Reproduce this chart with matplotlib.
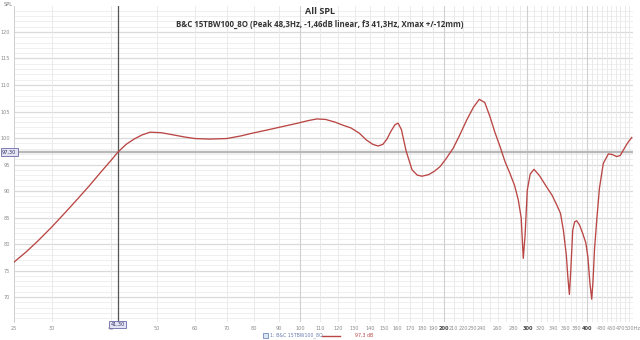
import numpy as np
import matplotlib
matplotlib.use("Agg")
import matplotlib.pyplot as plt
from matplotlib.patches import Rectangle

# frequency response (Hz, dB)
freq = [25, 26.5, 28, 30, 32, 34, 36, 38, 40, 41.3, 43, 44.7, 46.5, 48.3, 51,
        54, 57, 60, 64.5, 70, 75, 79.1, 85, 90, 98.7, 104, 108.3, 113, 118.2,
        123, 127.7, 133, 137.7, 142, 145.6, 149, 152, 155, 158, 160.4, 163,
        166.7, 171.6, 176, 180.1, 186, 191, 196.5, 202, 209.5, 216, 223.6, 231,
        237.6, 244, 250.3, 256, 262.7, 269, 275.7, 282, 287, 291, 294, 296.5,
        299.8, 304, 309.7, 318, 329, 338, 345.6, 352, 357, 362, 365, 367.5, 370,
        373.5, 377, 380.7, 386, 392, 398, 402, 406, 409.5, 412, 415, 419.5, 425,
        433, 443.7, 452, 462, 470, 477, 485, 491, 497]
spl = [76.6, 78.5, 80.5, 83.2, 85.9, 88.5, 91.0, 93.5, 95.8, 97.3, 98.8, 99.8,
       100.6, 101.1, 101.0, 100.6, 100.2, 99.9, 99.8, 99.9, 100.4, 100.9, 101.5,
       102.0, 102.8, 103.3, 103.6, 103.5, 103.0, 102.4, 101.9, 100.9, 99.6, 98.8,
       98.5, 98.8, 99.8, 101.3, 102.5, 102.8, 101.6, 97.6, 94.0, 93.0, 92.8,
       93.1, 93.7, 94.6, 96.0, 98.1, 100.5, 103.4, 105.8, 107.3, 106.7, 104.0,
       101.2, 98.4, 95.6, 93.3, 91.0, 88.3, 85.0, 77.3, 81.5, 90.2, 93.2, 94.1,
       92.9, 90.8, 89.2, 87.4, 85.8, 82.6, 78.0, 73.5, 70.5, 75.0, 82.6, 84.2,
       84.4, 83.6, 82.0, 80.2, 77.5, 72.5, 69.6, 73.0, 79.0, 84.5, 90.5, 95.2,
       97.0, 96.9, 96.5, 96.7, 97.7, 98.8, 99.5, 100.1]

xticks = [25, 30, 40, 50, 60, 70, 80, 90, 100, 110, 120, 130, 140, 150, 160,
          170, 180, 190, 200, 210, 220, 230, 240, 260, 280, 300, 320, 340, 360,
          380, 400, 430, 450, 470, 500]
xlabels = [str(v) for v in xticks[:-1]] + ["500Hz"]
bold_ticks = [200, 300, 400]
xgrid = [25, 30, 40, 50, 60, 70, 80, 90] + list(range(100, 501, 10))
xgrid_major = [100, 200, 300, 400]
yticks = [70, 75, 80, 85, 90, 95, 100, 105, 110, 115, 120]

cursor_f = 41.3
cursor_db = 97.3
red = "#b94644"

fig = plt.figure(figsize=(6.4, 3.4), dpi=100)
ax = fig.add_axes([14/640, 1 - 322/340, 619/640, 316/340])
ax.set_xscale("log")
ax.set_xlim(25, 500)
ax.set_ylim(65.3, 124.9)

# grid
for v in range(66, 125):
    ax.axhline(v, color="#ededed", lw=0.6, zorder=0)
for v in yticks:
    ax.axhline(v, color="#dadada", lw=0.9, zorder=0)
for v in xgrid:
    ax.axvline(v, color="#e7e7e7", lw=0.6, zorder=0)
for v in xgrid_major:
    ax.axvline(v, color="#d0d0d0", lw=0.8, zorder=0)

# cursors
ax.axhline(cursor_db, color="#b8b8b8", lw=1.7, zorder=1)
ax.axvline(cursor_f, color="#555555", lw=0.9, zorder=1)

ax.plot(freq, spl, color=red, lw=0.95, zorder=3)

ax.set_xticks(xticks)
ax.set_xticklabels(xlabels)
ax.xaxis.set_minor_locator(matplotlib.ticker.NullLocator())
ax.set_yticks(yticks)
ax.tick_params(length=0, labelsize=3.6, colors="#8a8a8a", pad=3)
for lab, v in zip(ax.get_xticklabels(), xticks):
    if v in bold_ticks:
        lab.set_fontweight("bold")
        lab.set_color("#444444")
for s in ax.spines.values():
    s.set_visible(False)
ax.spines["left"].set_visible(True)
ax.spines["left"].set_color("#cccccc")
ax.spines["left"].set_linewidth(0.6)

# cursor value boxes
ax.text(cursor_f, 65.3, "41,30", transform=ax.transData, fontsize=3.6,
        color="#333366", ha="center", va="top",
        bbox=dict(boxstyle="square,pad=0.25", fc="#e4e4f4", ec="#6a6aa8", lw=0.6),
        clip_on=False, zorder=5)
fig.text(2/640, 1 - 152/340, "97,30", fontsize=3.6, color="#333366",
         ha="left", va="center",
         bbox=dict(boxstyle="square,pad=0.25", fc="#e4e4f4", ec="#6a6aa8", lw=0.6))

fig.text(8/640, 1 - 4/340, "SPL", fontsize=3.6, color="#777777", ha="center", va="center")

# titles
fig.text(0.5, 1 - 12/340, "All SPL", fontsize=6.5, fontweight="bold",
         color="#333333", ha="center", va="center", family="Open Sans")
fig.text(0.5, 1 - 24/340,
         "B&C 15TBW100_8O (Peak 48,3Hz, -1,46dB linear, f3 41,3Hz, Xmax +/-12mm)",
         fontsize=5.7, fontweight="bold", color="#333333", ha="center", va="center",
         family="Open Sans")

# legend
fig.patches.append(Rectangle((263/640, 1 - 338/340), 5/640, 5/340,
                             transform=fig.transFigure, fc="#dde6f5", ec="#5577aa", lw=0.5))
fig.text(270/640, 1 - 335.5/340, "1: B&C 15TBW100_8O", fontsize=3.4,
         color="#6a7fae", ha="left", va="center")
fig.lines.append(matplotlib.lines.Line2D([322/640, 340/640], [1 - 335.5/340, 1 - 335.5/340],
                                         transform=fig.transFigure, color=red, lw=1.0))
fig.text(355/640, 1 - 335.5/340, "97,3 dB", fontsize=3.4, color=red,
         ha="left", va="center")

fig.savefig("out.png", dpi=100)
